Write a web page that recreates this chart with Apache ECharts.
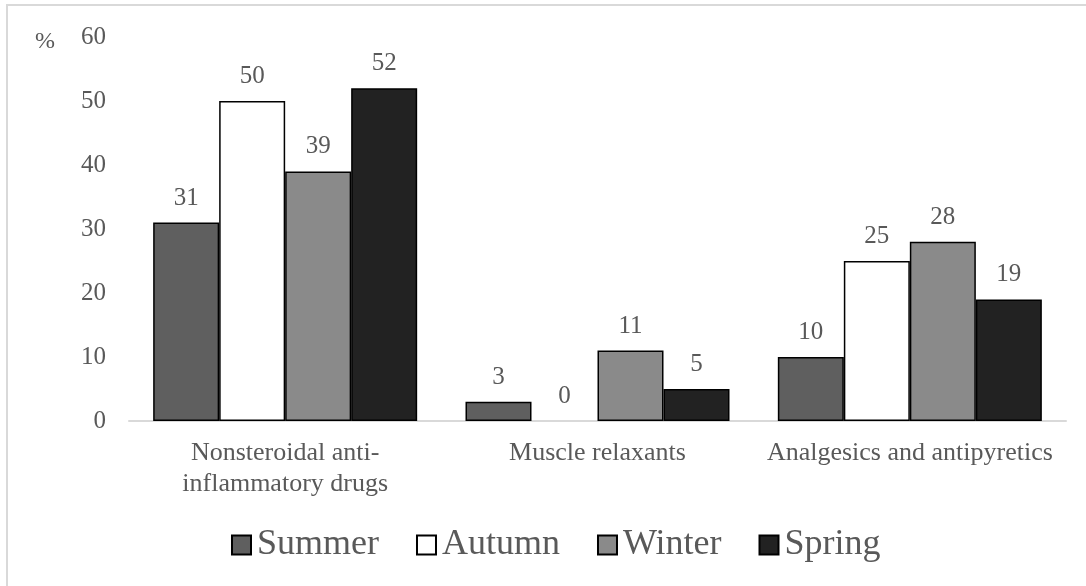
<!DOCTYPE html>
<html>
<head>
<meta charset="utf-8">
<title>Drug use by season</title>
<script src="https://cdn.jsdelivr.net/npm/echarts@6/dist/echarts.min.js"></script>
<style>
  html, body { margin: 0; padding: 0; background: #ffffff; }
  #chart { width: 1086px; height: 586px; }
</style>
</head>
<body>
<div id="chart"></div>
<script>
// Drug groups (x-axis categories)
const categories = [
  'Nonsteroidal anti-\ninflammatory drugs',
  'Muscle relaxants',
  'Analgesics and antipyretics'
];

// Share of use per season, %
const summer = [31, 3, 10];
const autumn = [50, 0, 25];
const winter = [39, 11, 28];
const spring = [52, 5, 19];

const seasonNames = ['Summer', 'Autumn', 'Winter', 'Spring'];
const yTicks = { min: 0, max: 60, step: 10 };

const FONT = "'Liberation Serif', 'Times New Roman', serif";
const TEXT = '#595959';
const fills = ['#5f5f5f', '#ffffff', '#8a8a8a', '#222222'];

function barSeries(name, values, color) {
  return {
    name: name,
    type: 'bar',
    barWidth: 66,
    barGap: '0%',
    itemStyle: { color: color, borderColor: '#000000', borderWidth: 1.5 },
    label: {
      show: true,
      position: 'top',
      distance: 12,
      fontFamily: FONT,
      fontSize: 25,
      color: TEXT
    },
    // a zero-height bar gets no outline
    data: values.map(v => v === 0 ? { value: v, itemStyle: { borderWidth: 0 } } : v)
  };
}

const chart = echarts.init(document.getElementById('chart'), null, { renderer: 'canvas' });

chart.setOption({
  animation: false,
  backgroundColor: '#ffffff',
  textStyle: { fontFamily: FONT },
  grid: { left: 129, right: 20, top: 37, bottom: 165, containLabel: false },
  xAxis: {
    type: 'category',
    data: categories,
    axisLine: { show: true, lineStyle: { color: '#d9d9d9', width: 2 } },
    axisTick: { show: false },
    axisLabel: {
      interval: 0,
      margin: 17,
      fontFamily: FONT,
      fontSize: 26,
      lineHeight: 31,
      color: TEXT
    }
  },
  yAxis: {
    type: 'value',
    min: yTicks.min,
    max: yTicks.max,
    interval: yTicks.step,
    axisLine: { show: false },
    axisTick: { show: false },
    splitLine: { show: false },
    axisLabel: { margin: 23, fontFamily: FONT, fontSize: 25, color: TEXT }
  },
  legend: {
    data: seasonNames,
    left: 226,
    top: 522,
    icon: 'rect',
    itemWidth: 19,
    itemHeight: 19,
    itemGap: 37,
    textStyle: { fontFamily: FONT, fontSize: 36, color: TEXT, padding: [0, 0, 0, 1] }
  },
  graphic: [
    {
      type: 'rect',
      silent: true,
      shape: { x: 7, y: 5, width: 2000, height: 2000 },
      style: { fill: 'none', stroke: '#d9d9d9', lineWidth: 2 }
    },
    {
      type: 'text',
      left: 35,
      top: 30,
      style: { text: '%', fontFamily: FONT, fontSize: 24, fill: TEXT }
    }
  ],
  series: [
    barSeries(seasonNames[0], summer, fills[0]),
    barSeries(seasonNames[1], autumn, fills[1]),
    barSeries(seasonNames[2], winter, fills[2]),
    barSeries(seasonNames[3], spring, fills[3])
  ]
});
</script>
</body>
</html>
